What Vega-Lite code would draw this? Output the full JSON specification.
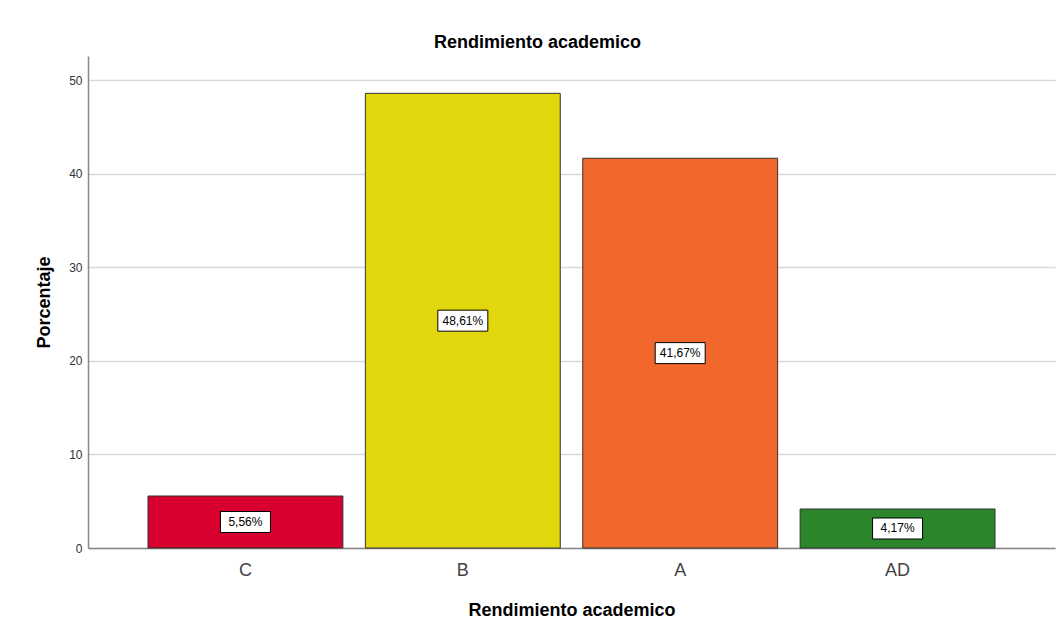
{
  "$schema": "https://vega.github.io/schema/vega-lite/v6.json",
  "width": 967,
  "height": 492,
  "autosize": {"type": "none"},
  "padding": {"left": 88, "top": 56, "right": 1, "bottom": 80},
  "background": "white",
  "title": {
    "text": "Rendimiento academico",
    "font": "Liberation Sans",
    "fontSize": 18,
    "fontWeight": "bold",
    "color": "#000000",
    "anchor": "middle",
    "frame": "group",
    "dx": -34,
    "dy": 19,
    "offset": 9,
    "baseline": "alphabetic"
  },
  "config": {
    "view": {"stroke": null},
    "font": "Liberation Sans"
  },
  "data": {
    "values": [
      {"cat": "C", "pct": 5.56, "label": "5,56%"},
      {"cat": "B", "pct": 48.61, "label": "48,61%"},
      {"cat": "A", "pct": 41.67, "label": "41,67%"},
      {"cat": "AD", "pct": 4.17, "label": "4,17%"}
    ]
  },
  "encoding": {
    "x": {
      "field": "cat",
      "type": "nominal",
      "sort": ["C", "B", "A", "AD"],
      "scale": {"paddingInner": 0.1034, "paddingOuter": 0.276},
      "axis": {
        "title": "Rendimiento academico",
        "titleFont": "Liberation Sans",
        "titleFontSize": 18,
        "titleFontWeight": "bold",
        "titleColor": "#000000",
        "titleY": 67,
        "titleBaseline": "alphabetic",
        "labelFont": "Liberation Sans",
        "labelFontSize": 18,
        "labelColor": "#444444",
        "labelAngle": 0,
        "labelBaseline": "alphabetic",
        "labelPadding": 27,
        "ticks": false,
        "domainColor": "#888888",
        "domainWidth": 1.5
      }
    }
  },
  "layer": [
    {
      "mark": {"type": "bar", "stroke": "#333333", "strokeWidth": 1},
      "encoding": {
        "y": {
          "field": "pct",
          "type": "quantitative",
          "scale": {"domain": [0, 52.6], "nice": false, "zero": true},
          "axis": {
            "title": "Porcentaje",
            "titleFont": "Liberation Sans",
            "titleFontSize": 18,
            "titleFontWeight": "bold",
            "titleColor": "#000000",
            "titleAngle": -90,
            "titleX": -39,
            "titleY": 246,
            "titleAlign": "center",
            "titleBaseline": "alphabetic",
            "values": [0, 10, 20, 30, 40, 50],
            "labelFont": "Liberation Sans",
            "labelFontSize": 12,
            "labelColor": "#333333",
            "labelPadding": 6,
            "ticks": false,
            "domainColor": "#888888",
            "domainWidth": 1.5,
            "grid": true,
            "gridColor": "#d9d9d9",
            "gridWidth": 1.5
          }
        },
        "color": {
          "field": "cat",
          "type": "nominal",
          "scale": {"domain": ["C", "B", "A", "AD"], "range": ["#d7002e", "#e2d70d", "#f2672c", "#2b862b"]},
          "legend": null
        }
      }
    },
    {
      "encoding": {
        "y": {
          "field": "pct",
          "type": "quantitative",
          "scale": {"domain": [0, 105.2], "nice": false, "zero": true},
          "axis": null
        }
      },
      "layer": [
        {
          "mark": {"type": "point", "shape": "M-1,-0.42L1,-0.42L1,0.42L-1,0.42Z", "size": 2500, "filled": false, "fill": "white", "fillOpacity": 1, "stroke": "#000000", "strokeWidth": 1, "opacity": 1}
        },
        {
          "mark": {"type": "text", "font": "Liberation Sans", "fontSize": 12, "color": "#000000", "baseline": "middle", "align": "center"},
          "encoding": {
            "text": {"field": "label"}
          }
        }
      ]
    }
  ],
  "resolve": {"scale": {"y": "independent"}, "axis": {"y": "independent"}}
}
